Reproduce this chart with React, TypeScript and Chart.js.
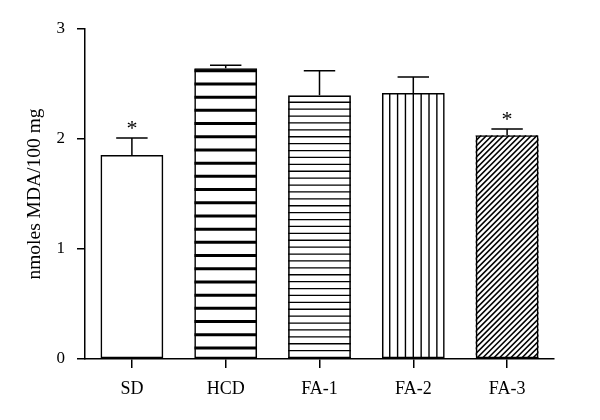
import React, { useEffect, useRef } from "react";
import { Chart, registerables } from "chart.js";

Chart.register(...registerables);

const categories = ["SD", "HCD", "FA-1", "FA-2", "FA-3"];
const means = [1.855, 2.643, 2.397, 2.418, 2.034];
const errors = [0.155, 0.027, 0.223, 0.146, 0.056];
const significant = [true, false, false, false, true];
const yTicks = [0, 1, 2, 3];
const patterns = ["none", "thickH", "thinH", "vert", "diag"];

const FONT = "'Liberation Serif', 'Times New Roman', serif";

const hatchPlugin = {
  id: "hatch",
  beforeDatasetsDraw(chart: any) {
    const ctx = chart.ctx;
    const meta = chart.getDatasetMeta(0);
    meta.data.forEach((bar: any, i: number) => {
      const p = bar.getProps(["x", "y", "base", "width"], true);
      const l = p.x - p.width / 2;
      const r = p.x + p.width / 2;
      const t = Math.min(p.y, p.base);
      const b = Math.max(p.y, p.base);
      ctx.save();
      ctx.beginPath();
      ctx.rect(l, t, r - l, b - t);
      ctx.clip();
      ctx.strokeStyle = "#000";
      const kind = patterns[i];
      if (kind === "thickH") {
        ctx.lineWidth = 3;
        for (let y = t + 2.5; y < b; y += 13.2) {
          ctx.beginPath();
          ctx.moveTo(l, y);
          ctx.lineTo(r, y);
          ctx.stroke();
        }
      } else if (kind === "thinH") {
        ctx.lineWidth = 1.3;
        for (let y = t + 6.9; y < b; y += 6.9) {
          ctx.beginPath();
          ctx.moveTo(l, y);
          ctx.lineTo(r, y);
          ctx.stroke();
        }
      } else if (kind === "vert") {
        ctx.lineWidth = 1.4;
        const step = (r - l) / 8;
        for (let k = 1; k < 8; k++) {
          const x = l + step * k;
          ctx.beginPath();
          ctx.moveTo(x, t);
          ctx.lineTo(x, b);
          ctx.stroke();
        }
      } else if (kind === "diag") {
        ctx.lineWidth = 1.6;
        const h = b - t;
        for (let x = l - h; x < r + h; x += 5.6) {
          ctx.beginPath();
          ctx.moveTo(x, b);
          ctx.lineTo(x + h, t);
          ctx.stroke();
        }
      }
      ctx.restore();
    });
  },
  afterDatasetsDraw(chart: any) {
    const ctx = chart.ctx;
    const yScale = chart.scales.y;
    const meta = chart.getDatasetMeta(0);
    meta.data.forEach((bar: any, i: number) => {
      const p = bar.getProps(["x", "y", "width"], true);
      const topY = yScale.getPixelForValue(means[i] + errors[i]);
      const half = p.width / 4;
      ctx.save();
      ctx.strokeStyle = "#000";
      ctx.lineWidth = 1.5;
      ctx.beginPath();
      ctx.moveTo(p.x, p.y);
      ctx.lineTo(p.x, topY);
      ctx.moveTo(p.x - half, topY);
      ctx.lineTo(p.x + half, topY);
      ctx.stroke();
      if (significant[i]) {
        ctx.fillStyle = "#000";
        ctx.font = `22px ${FONT}`;
        ctx.textAlign = "center";
        ctx.textBaseline = "alphabetic";
        ctx.fillText("*", p.x, topY - 3);
      }
      ctx.restore();
    });
  },
};

export default function App() {
  const ref = useRef<HTMLCanvasElement | null>(null);
  useEffect(() => {
    if (!ref.current) return;
    const chart = new Chart(ref.current, {
      type: "bar",
      data: {
        labels: categories,
        datasets: [
          {
            data: means,
            backgroundColor: "rgba(0,0,0,0)",
            borderColor: "#000",
            borderWidth: 1.6,
            borderSkipped: false,
            barPercentage: 0.67,
            categoryPercentage: 1,
          },
        ],
      },
      options: {
        animation: false,
        responsive: false,
        layout: { padding: { left: 0, right: 46, top: 29, bottom: 0 } },
        plugins: { legend: { display: false }, tooltip: { enabled: false } },
        scales: {
          x: {
            afterFit: (s: any) => {
              s.height = 61;
            },
            grid: {
              offset: false,
              drawOnChartArea: false,
              drawTicks: true,
              tickLength: 9,
              color: "#000",
              lineWidth: 1.5,
            },
            border: { color: "#000", width: 1.5 },
            ticks: { color: "#000", font: { family: FONT, size: 18 }, padding: 10 },
          },
          y: {
            min: 0,
            max: 3,
            afterFit: (s: any) => {
              s.width = 85;
            },
            afterBuildTicks: (s: any) => {
              s.ticks = yTicks.map((v) => ({ value: v }));
            },
            grid: {
              drawOnChartArea: false,
              drawTicks: true,
              tickLength: 8,
              color: "#000",
              lineWidth: 1.5,
            },
            border: { color: "#000", width: 1.5 },
            ticks: { color: "#000", font: { family: FONT, size: 17 }, padding: 12 },
            title: {
              display: true,
              text: "nmoles MDA/100 mg",
              color: "#000",
              font: { family: FONT, size: 19.5 },
              padding: { top: 23, bottom: 0 },
            },
          },
        },
      },
      plugins: [hatchPlugin],
    });
    return () => chart.destroy();
  }, []);
  return (
    <div style={{ position: "absolute", left: 0, top: 0, width: 600, height: 420, background: "#fff" }}>
      <canvas ref={ref} width={600} height={420} style={{ width: 600, height: 420 }} />
    </div>
  );
}
